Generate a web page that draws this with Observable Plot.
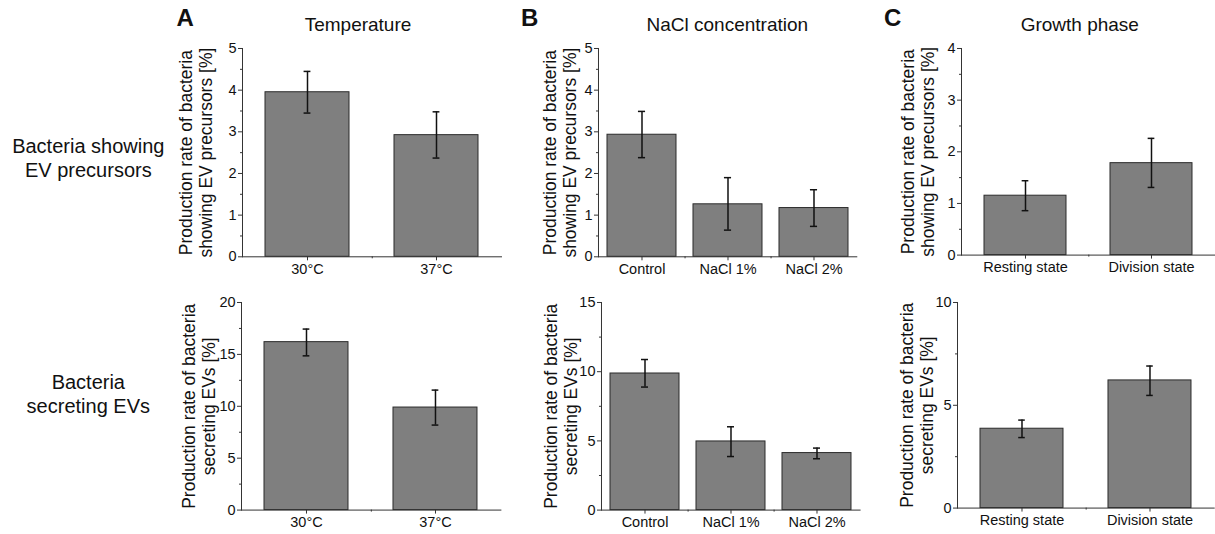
<!DOCTYPE html>
<html>
<head>
<meta charset="utf-8">
<script src="https://cdn.jsdelivr.net/npm/d3@7"></script>
<script src="https://cdn.jsdelivr.net/npm/@observablehq/plot@0.6"></script>
<style>
  html, body { margin: 0; padding: 0; background: #fff; overflow: hidden; }
  #root { position: relative; width: 1215px; height: 534px; font-family: "Liberation Sans", Arial, sans-serif; color: #111; }
  .abs { position: absolute; white-space: nowrap; }
  .letter { font-size: 24px; font-weight: bold; line-height: 24px; }
  .title { font-size: 19px; line-height: 19px; transform: translateX(-50%); }
  .row { font-size: 20px; line-height: 24px; width: 180px; text-align: center; }
  svg { overflow: visible; }
</style>
</head>
<body>
<div id="root"></div>
<script>
// ---------- data ----------
const tempCats = ["30°C", "37°C"];
const naclCats = ["Control", "NaCl 1%", "NaCl 2%"];
const phaseCats = ["Resting state", "Division state"];

// Bacteria showing EV precursors (%)
const tempPrec = [3.95, 2.92];
const tempPrecLo = [3.45, 2.37];
const tempPrecHi = [4.45, 3.48];
const naclPrec = [2.93, 1.26, 1.17];
const naclPrecLo = [2.38, 0.64, 0.73];
const naclPrecHi = [3.49, 1.90, 1.61];
const phasePrec = [1.15, 1.78];
const phasePrecLo = [0.86, 1.31];
const phasePrecHi = [1.44, 2.26];

// Bacteria secreting EVs (%)
const tempSec = [16.18, 9.88];
const tempSecLo = [14.86, 8.19];
const tempSecHi = [17.44, 11.56];
const naclSec = [9.87, 4.96, 4.12];
const naclSecLo = [8.89, 3.87, 3.71];
const naclSecHi = [10.88, 6.02, 4.48];
const phaseSec = [3.86, 6.21];
const phaseSecLo = [3.43, 5.48];
const phaseSecHi = [4.28, 6.91];

// axis ticks
const ticks0to5 = [0, 1, 2, 3, 4, 5];
const minor0to5 = [0.5, 1.5, 2.5, 3.5, 4.5];
const ticks0to4 = [0, 1, 2, 3, 4];
const minor0to4 = [0.5, 1.5, 2.5, 3.5];
const ticks0to20 = [0, 5, 10, 15, 20];
const minor0to20 = [2.5, 7.5, 12.5, 17.5];
const ticks0to15 = [0, 5, 10, 15];
const minor0to15 = [2.5, 7.5, 12.5];
const ticks0to10 = [0, 5, 10];
const minor0to10 = [2.5, 7.5];

const colTitles = ["Temperature", "NaCl concentration", "Growth phase"];
const colLetters = ["A", "B", "C"];
const rowLabels = [["Bacteria showing", "EV precursors"], ["Bacteria", "secreting EVs"]];
const labelPrec = "Production rate of bacteria\nshowing EV precursors [%]";
const labelSec = "Production rate of bacteria\nsecreting EVs [%]";

// ---------- drawing ----------
const root = document.getElementById("root");
const FONT = "Liberation Sans, Arial, sans-serif";

function table(cats, v, lo, hi) {
  return cats.map((c, i) => ({cat: c, v: v[i], lo: lo[i], hi: hi[i]}));
}

function panel(o) {
  const ML = 75, MR = 1, MT = 8, MB = 30;
  const W = o.x1 - o.x0, H = o.y1 - o.y0;
  const n = o.cats.length;
  const step = W / (n - o.pi + 2 * o.po);
  const bw = step * (1 - o.pi);
  const capW = 7;
  const data = table(o.cats, o.v, o.lo, o.hi);
  const chart = Plot.plot({
    width: W + ML + MR,
    height: H + MT + MB,
    marginLeft: ML, marginRight: MR, marginTop: MT, marginBottom: MB,
    style: {fontFamily: FONT, fontSize: "14.5px", color: "#111", background: "transparent", overflow: "visible"},
    x: {domain: o.cats, paddingInner: o.pi, paddingOuter: o.po},
    y: {domain: o.domain},
    marks: [
      Plot.barY(data, {x: "cat", y: "v", fill: "#7f7f7f", stroke: "#2b2b2b", strokeWidth: 1}),
      Plot.ruleX(data, {x: "cat", y1: "lo", y2: "hi", stroke: "#111", strokeWidth: 1.5}),
      Plot.tickY(data, {x: "cat", y: "hi", stroke: "#111", strokeWidth: 1.5, insetLeft: (bw - capW) / 2, insetRight: (bw - capW) / 2}),
      Plot.tickY(data, {x: "cat", y: "lo", stroke: "#111", strokeWidth: 1.5, insetLeft: (bw - capW) / 2, insetRight: (bw - capW) / 2}),
      Plot.frame({anchor: "left", stroke: "#333"}),
      Plot.frame({anchor: "bottom", stroke: "#333"}),
      Plot.axisY(o.ticks, {tickSize: 4, tickPadding: 2, fontSize: 14.5, tickFormat: d => String(d), label: null, stroke: "#333"}),
      Plot.axisY(o.minor, {tickSize: 2, text: null, label: null, stroke: "#333"}),
      Plot.axisX(o.cats, {tickSize: 4, tickPadding: 3, fontSize: 14.5, label: null, stroke: "#333"}),
      Plot.axisX(o.cats.slice(0, -1), {tickSize: 2, text: null, label: null, dx: step / 2, stroke: "#333"}),
      Plot.text([o.label], {frameAnchor: "left", rotate: -90, dx: o.labelDx, fontSize: 17.5, lineHeight: 1.15, textAnchor: "middle", lineAnchor: "middle", fill: "#111"})
    ]
  });
  chart.style.position = "absolute";
  chart.style.left = (o.x0 - ML) + "px";
  chart.style.top = (o.y0 - MT) + "px";
  root.appendChild(chart);
}

// top row
panel({cats: tempCats, v: tempPrec, lo: tempPrecLo, hi: tempPrecHi, domain: [0, 5], ticks: ticks0to5, minor: minor0to5,
  label: labelPrec, x0: 241.7, x1: 500.7, y0: 47.7, y1: 256, pi: 0.35, po: 0.175, labelDx: -46.7});
panel({cats: naclCats, v: naclPrec, lo: naclPrecLo, hi: naclPrecHi, domain: [0, 5], ticks: ticks0to5, minor: minor0to5,
  label: labelPrec, x0: 597.7, x1: 856, y0: 47.7, y1: 256, pi: 0.2, po: 0.1, labelDx: -39});
panel({cats: phaseCats, v: phasePrec, lo: phasePrecLo, hi: phasePrecHi, domain: [0, 4], ticks: ticks0to4, minor: minor0to4,
  label: labelPrec, x0: 960.7, x1: 1214, y0: 47.7, y1: 254.3, pi: 0.35, po: 0.175, labelDx: -44});
// bottom row
panel({cats: tempCats, v: tempSec, lo: tempSecLo, hi: tempSecHi, domain: [0, 20], ticks: ticks0to20, minor: minor0to20,
  label: labelSec, x0: 241.3, x1: 500.7, y0: 301.7, y1: 509.3, pi: 0.35, po: 0.175, labelDx: -42.7});
panel({cats: naclCats, v: naclSec, lo: naclSecLo, hi: naclSecHi, domain: [0, 15], ticks: ticks0to15, minor: minor0to15,
  label: labelSec, x0: 600.7, x1: 859.3, y0: 301.7, y1: 509.3, pi: 0.2, po: 0.1, labelDx: -40.7});
panel({cats: phaseCats, v: phaseSec, lo: phaseSecLo, hi: phaseSecHi, domain: [0, 10], ticks: ticks0to10, minor: minor0to10,
  label: labelSec, x0: 957.3, x1: 1214, y0: 301.7, y1: 507.3, pi: 0.35, po: 0.175, labelDx: -41});

// headers
function addDiv(cls, lines, left, top) {
  const d = document.createElement("div");
  d.className = "abs " + cls;
  [].concat(lines).forEach((t, i) => {
    if (i) d.appendChild(document.createElement("br"));
    d.appendChild(document.createTextNode(t));
  });
  d.style.left = left + "px";
  d.style.top = top + "px";
  root.appendChild(d);
  return d;
}
const letterX = [176.5, 521, 884];
const titleX = [358, 727.3, 1079.8];
colLetters.forEach((t, i) => addDiv("letter", t, letterX[i], 6.4));
colTitles.forEach((t, i) => addDiv("title", t, titleX[i], 14.6));
addDiv("row", rowLabels[0], -1.7, 134.4);
addDiv("row", rowLabels[1], -1.7, 370.4);
</script>
</body>
</html>
